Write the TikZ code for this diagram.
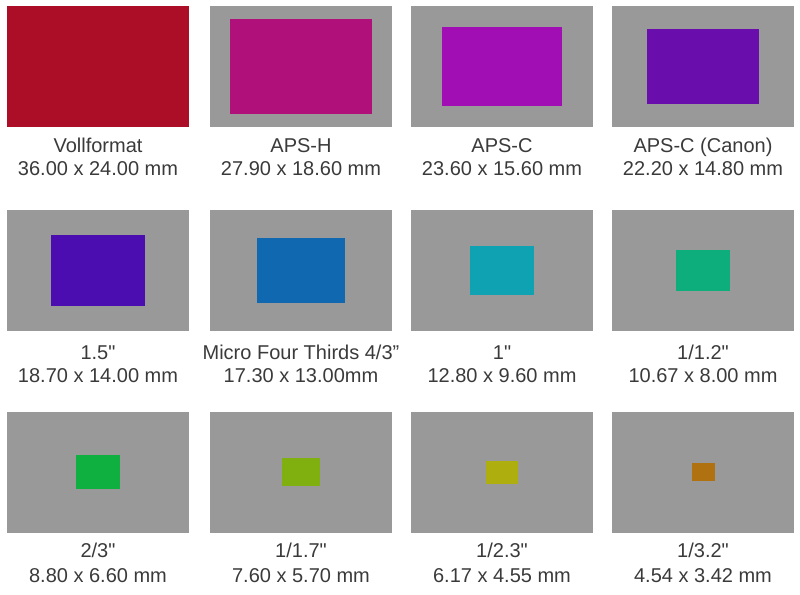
\documentclass[tikz,border=0pt]{standalone}
\usepackage{fontspec}
\setmainfont{Liberation Sans}[Ligatures=TeXOff]
\usepackage{tikz}
\usetikzlibrary{positioning}
\definecolor{framegray}{RGB}{153,153,153}
\definecolor{captiontext}{RGB}{58,58,58}
\definecolor{colFF}{RGB}{173,14,39}
\definecolor{colAPSH}{RGB}{176,16,122}
\definecolor{colAPSC}{RGB}{160,14,180}
\definecolor{colCanon}{RGB}{106,13,173}
\definecolor{colOneFive}{RGB}{76,13,176}
\definecolor{colMFT}{RGB}{16,104,176}
\definecolor{colOne}{RGB}{14,162,178}
\definecolor{colOneTwo}{RGB}{14,174,124}
\definecolor{colTwoThird}{RGB}{16,176,64}
\definecolor{colOneSeven}{RGB}{128,176,16}
\definecolor{colOneTwoThree}{RGB}{174,174,14}
\definecolor{colOneThreeTwo}{RGB}{176,114,16}
\tikzset{
  framebox/.style={rectangle, inner sep=0pt, fill=framegray,
                   minimum width=182pt, minimum height=121pt},
  sensor/.style={rectangle, inner sep=0pt, fill=#1},
  caption/.style={font=\fontsize{20}{23}\selectfont, text=captiontext,
                  inner sep=0pt, anchor=base},
}

\begin{document}
\begin{tikzpicture}[x=1pt, y=-1pt]
  \useasboundingbox (0,0) rectangle (800,594);
  % Frames, row 1
  \node[framebox] (ffbox)    at (98,66.5)  {};
  \node[framebox] (apshbox)  at (301,66.5) {};
  \node[framebox] (apscbox)  at (502,66.5) {};
  \node[framebox] (canonbox) at (703,66.5) {};
  % Frames, row 2
  \node[framebox] (onefivebox) at (98,270.5)  {};
  \node[framebox] (mftbox)     at (301,270.5) {};
  \node[framebox] (onebox)     at (502,270.5) {};
  \node[framebox] (onetwobox)  at (703,270.5) {};
  % Frames, row 3
  \node[framebox] (twothirdbox)    at (98,472)  {};
  \node[framebox] (onesevenbox)    at (301,472) {};
  \node[framebox] (onetwothreebox) at (502,472) {};
  \node[framebox] (onethreetwobox) at (703,472) {};
  % Sensors, row 1
  \node[sensor=colFF, minimum width=182pt, minimum height=121.3pt] (ff) at (ffbox.center) {};
  \node[sensor=colAPSH, minimum width=141.1pt, minimum height=94pt] (apsh) at (apshbox.center) {};
  \node[sensor=colAPSC, minimum width=119.3pt, minimum height=78.9pt] (apsc) at (apscbox.center) {};
  \node[sensor=colCanon, minimum width=112.2pt, minimum height=74.8pt] (canon) at (canonbox.center) {};
  % Sensors, row 2
  \node[sensor=colOneFive, minimum width=94.5pt, minimum height=70.8pt] (onefive) at (onefivebox.center) {};
  \node[sensor=colMFT, minimum width=87.5pt, minimum height=65.7pt] (mft) at (mftbox.center) {};
  \node[sensor=colOne, minimum width=64.7pt, minimum height=48.5pt] (one) at (onebox.center) {};
  \node[sensor=colOneTwo, minimum width=53.9pt, minimum height=40.4pt] (onetwo) at (onetwobox.center) {};
  % Sensors, row 3
  \node[sensor=colTwoThird, minimum width=44.5pt, minimum height=33.4pt] (twothird) at (twothirdbox.center) {};
  \node[sensor=colOneSeven, minimum width=38.4pt, minimum height=28.8pt] (oneseven) at (onesevenbox.center) {};
  \node[sensor=colOneTwoThree, minimum width=31.2pt, minimum height=23pt] (onetwothree) at (onetwothreebox.center) {};
  \node[sensor=colOneThreeTwo, minimum width=23pt, minimum height=17.3pt] (onethreetwo) at (onethreetwobox.center) {};
  % Captions, row 1
  \node[caption] (fftxt)    at ([yshift=-25pt]ffbox.south)    {Vollformat};
  \node[caption] (apshtxt)  at ([yshift=-25pt]apshbox.south)  {APS-H};
  \node[caption] (apsctxt)  at ([yshift=-25pt]apscbox.south)  {APS-C};
  \node[caption] (canontxt) at ([yshift=-25pt]canonbox.south) {APS-C (Canon)};
  \node[caption] (ffdim)    at ([yshift=-23pt]fftxt.base)    {36.00 x 24.00 mm};
  \node[caption] (apshdim)  at ([yshift=-23pt]apshtxt.base)  {27.90 x 18.60 mm};
  \node[caption] (apscdim)  at ([yshift=-23pt]apsctxt.base)  {23.60 x 15.60 mm};
  \node[caption] (canondim) at ([yshift=-23pt]canontxt.base) {22.20 x 14.80 mm};
  % Captions, row 2
  \node[caption] (onefivetxt) at ([yshift=-28pt]onefivebox.south) {1.5"};
  \node[caption] (mfttxt)     at ([yshift=-28pt]mftbox.south)     {Micro Four Thirds 4/3”};
  \node[caption] (onetxt)     at ([yshift=-28pt]onebox.south)     {1"};
  \node[caption] (onetwotxt)  at ([yshift=-28pt]onetwobox.south)  {1/1.2"};
  \node[caption] (onefivedim) at ([yshift=-23pt]onefivetxt.base) {18.70 x 14.00 mm};
  \node[caption] (mftdim)     at ([yshift=-23pt]mfttxt.base)     {17.30 x 13.00mm};
  \node[caption] (onedim)     at ([yshift=-23pt]onetxt.base)     {12.80 x 9.60 mm};
  \node[caption] (onetwodim)  at ([yshift=-23pt]onetwotxt.base)  {10.67 x 8.00 mm};
  % Captions, row 3
  \node[caption] (twothirdtxt)    at ([yshift=-25pt]twothirdbox.south)    {2/3"};
  \node[caption] (oneseventxt)    at ([yshift=-25pt]onesevenbox.south)    {1/1.7"};
  \node[caption] (onetwothreetxt) at ([yshift=-25pt]onetwothreebox.south) {1/2.3"};
  \node[caption] (onethreetwotxt) at ([yshift=-25pt]onethreetwobox.south) {1/3.2"};
  \node[caption] (twothirddim)    at ([yshift=-25pt]twothirdtxt.base)    {8.80 x 6.60 mm};
  \node[caption] (onesevendim)    at ([yshift=-25pt]oneseventxt.base)    {7.60 x 5.70 mm};
  \node[caption] (onetwothreedim) at ([yshift=-25pt]onetwothreetxt.base) {6.17 x 4.55 mm};
  \node[caption] (onethreetwodim) at ([yshift=-25pt]onethreetwotxt.base) {4.54 x 3.42 mm};
\end{tikzpicture}
\end{document}
